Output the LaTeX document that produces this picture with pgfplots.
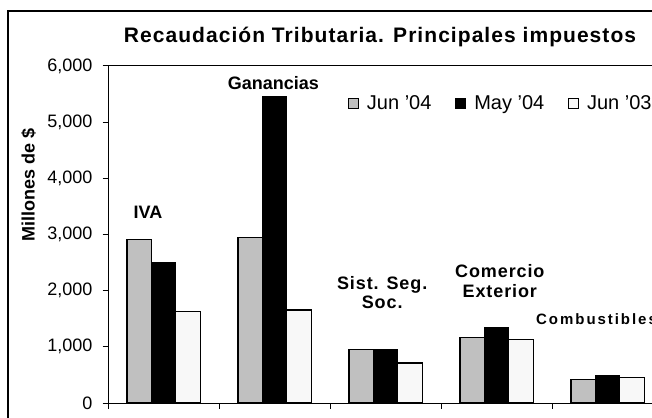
\documentclass[border=0pt]{standalone}
\usepackage{pgfplots}
\pgfplotsset{compat=1.18}
\usepackage{fontspec}
\setmainfont{Liberation Sans}
\newfontfamily\spaced[LetterSpace=5]{Liberation Sans}
\newfontfamily\wide[LetterSpace=13]{Liberation Sans}
\definecolor{barA}{RGB}{192,192,192}
\definecolor{barC}{RGB}{248,248,248}
\begin{document}
\begin{tikzpicture}[x=1pt,y=1pt]
\begin{axis}[
  at={(108pt,14pt)}, anchor=south west,
  width=555pt, height=337pt, scale only axis,
  xmin=-0.5, xmax=4.5, ymin=0, ymax=6000,
  axis line style={line width=1pt, black},
  xtick={-0.5,0.5,1.5,2.5,3.5,4.5}, xticklabels={},
  xtick pos=left, ytick pos=left,
  tick align=inside, major tick length=5.5pt,
  tick style={line width=1pt, black},
  y tick style={xshift=-5.5pt},
  ytick={0,1000,2000,3000,4000,5000,6000},
  yticklabel style={font=\fontsize{18}{21}\selectfont, xshift=-12pt},
  /pgf/number format/assume math mode=true,
  /pgf/number format/1000 sep={,},
  scaled y ticks=false,
  ybar=0pt, bar width=24.4pt,
  legend columns=3,
  legend style={at={(0.4324,0.89)}, anchor=west, draw=none, fill=none,
    inner sep=0pt, font=\fontsize{20}{24}\selectfont,
    /tikz/every odd column/.append style={column sep=6pt},
    /tikz/every even column/.append style={column sep=22pt}},
  legend cell align=left,
]
\addplot[fill=barA, draw=black, line width=1.2pt,
  legend image code/.code={\draw[fill=barA,draw=black,line width=0.8pt] (0pt,-5pt) rectangle (10pt,5pt);}]
  coordinates {(0,2910) (1,2950) (2,950) (3,1160) (4,418)};
\addplot[fill=black, draw=black, line width=1.2pt,
  legend image code/.code={\draw[fill=black,draw=black,line width=0.8pt] (0pt,-5pt) rectangle (10pt,5pt);}]
  coordinates {(0,2500) (1,5460) (2,952) (3,1345) (4,480)};
\addplot[fill=barC, draw=black, line width=1.2pt,
  legend image code/.code={\draw[fill=barC,draw=black,line width=0.8pt] (0pt,-5pt) rectangle (10pt,5pt);}]
  coordinates {(0,1630) (1,1655) (2,712) (3,1135) (4,455)};
\legend{Jun '04, May '04, Jun '03}
\node[font=\bfseries\fontsize{18}{21}\selectfont] at (axis cs:-0.14,3400) {IVA};
\node[font=\bfseries\fontsize{18}{21}\selectfont] at (axis cs:0.99,5700) {Ganancias};
\node[font=\spaced\bfseries\fontsize{18}{19}\selectfont, align=center] at (axis cs:1.97,1973) {Sist. Seg.\\Soc.};
\node[font=\spaced\bfseries\fontsize{18}{20.5}\selectfont, align=center] at (axis cs:3.03,2170) {Comercio\\Exterior};
\node[font=\wide\bfseries\fontsize{15}{18}\selectfont, anchor=west, inner sep=0pt] at (axis cs:3.356,1490) {Combustibles};
\end{axis}
\draw[line width=1.5pt, black] (8,-20) -- (8,406) -- (700,406);
\node[font=\spaced\bfseries\fontsize{21}{25}\selectfont] at (380,380) {Recaudación Tributaria. Principales impuestos};
\node[rotate=90, font=\bfseries\fontsize{18}{21}\selectfont] at (28.5,232) {Millones de \$};
\pgfresetboundingbox
\useasboundingbox (0,0) rectangle (652,417);
\end{tikzpicture}
\end{document}
